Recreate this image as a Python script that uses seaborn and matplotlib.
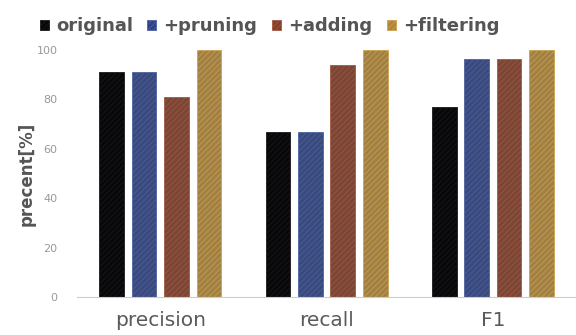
import pandas as pd
import matplotlib
matplotlib.use('Agg')
import matplotlib.pyplot as plt
import seaborn as sns
from matplotlib.patches import Patch

# data
metrics = ['precision', 'recall', 'F1']
methods = ['original', '+pruning', '+adding', '+filtering']
original = [91, 67, 77]
pruning = [91, 67, 96.5]
adding = [81, 94, 96.5]
filtering = [100, 100, 100]

colors = ['#08080a', '#2f4488', '#86402a', '#b08535']
edges = ['#1a1a1e', '#4c62a2', '#a05a42', '#cca250']

rows = []
for m, vals in zip(methods, [original, pruning, adding, filtering]):
    for k, v in zip(metrics, vals):
        rows.append({'metric': k, 'method': m, 'value': v})
df = pd.DataFrame(rows)

sns.set_style('white')
plt.rcParams['hatch.linewidth'] = 0.5

fig = plt.figure(figsize=(5.76, 3.35), dpi=100)
ax = fig.add_axes([0.134, 0.113, 0.866, 0.738])

sns.barplot(data=df, x='metric', y='value', hue='method', palette=colors,
            width=0.78, gap=0.24, ax=ax, legend=False)

# diagonal stripes like the original
for i, cont in enumerate(ax.containers):
    for bar in cont:
        bar.set_edgecolor(edges[i])
        bar.set_linewidth(0.6)
        bar.set_hatch('//////')

ax.set_ylim(0, 100)
ax.set_yticks([0, 20, 40, 60, 80, 100])
ax.set_xlim(-0.5, 2.5)
ax.set_xlabel('')
ax.set_ylabel('precent[%]', fontsize=12, fontweight='bold', color='#555555', labelpad=1)
ax.tick_params(axis='y', labelsize=8, colors='#999999', length=0, pad=14)
ax.tick_params(axis='x', labelsize=14.5, colors='#5a5a5a', length=0, pad=10)
for s in ['top', 'right', 'left']:
    ax.spines[s].set_visible(False)
ax.spines['bottom'].set_color('#cccccc')
ax.spines['bottom'].set_linewidth(0.8)

handles = [Patch(facecolor=c, edgecolor=e, hatch='//////', linewidth=0.6)
           for c, e in zip(colors, edges)]
leg = fig.legend(handles, methods, loc='center', bbox_to_anchor=(0.468, 0.922), ncol=4,
                 frameon=False, handlelength=0.5, handleheight=0.5,
                 handletextpad=0.4, columnspacing=0.8, prop={'weight': 'bold', 'size': 13})
for t in leg.get_texts():
    t.set_color('#555555')

fig.savefig('out.png', dpi=100)
